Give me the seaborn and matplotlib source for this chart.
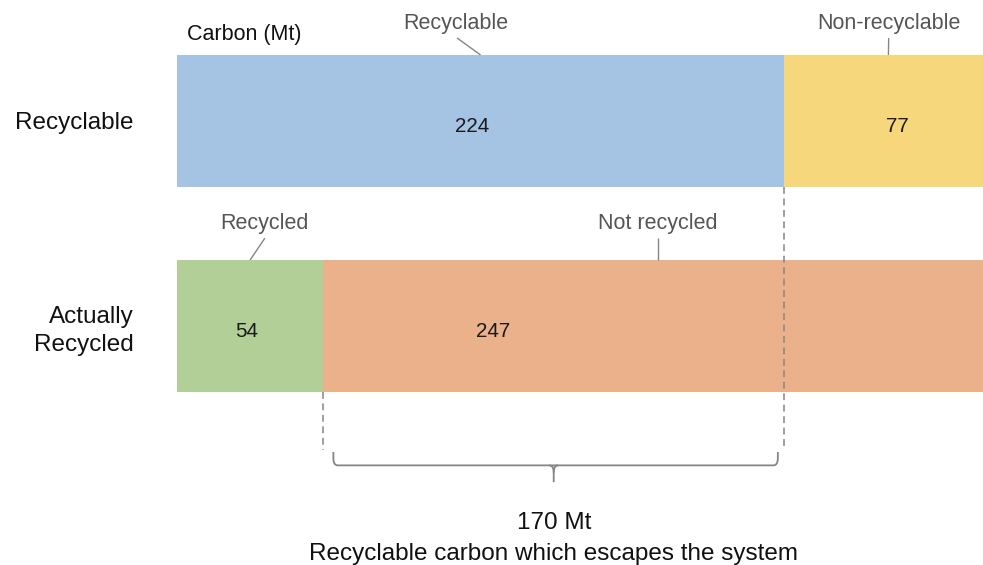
import matplotlib
matplotlib.use("Agg")
import matplotlib.pyplot as plt
from matplotlib.path import Path
from matplotlib.patches import PathPatch
import seaborn as sns

# --- data -------------------------------------------------------------
categories = ["Recyclable", "Actually\nRecycled"]
first_segment = [224, 54]          # Recyclable / Recycled
second_segment = [77, 247]         # Non-recyclable / Not recycled
first_names = ["Recyclable", "Recycled"]
second_names = ["Non-recyclable", "Not recycled"]
first_colors = ["#a5c3e2", "#b1cf96"]
second_colors = ["#f7d77b", "#ebb18a"]
escaped_label = "170 Mt"
escaped_caption = "Recyclable carbon which escapes the system"

totals = [a + b for a, b in zip(first_segment, second_segment)]

# --- styling ----------------------------------------------------------
sns.set_theme(style="white")
plt.rcParams["font.family"] = ["Liberation Sans", "DejaVu Sans"]

W, H = 983, 565
fig = plt.figure(figsize=(W / 100, H / 100), dpi=100)
fig.patch.set_facecolor("white")
ax = fig.add_axes([177 / W, 0, (W - 177) / W, 1])

bar_w = 0.644
# full-length bars first, then the first segment on top -> stacked look
sns.barplot(x=totals, y=categories, hue=categories, palette=second_colors,
            width=bar_w, saturation=1, legend=False, linewidth=0, ax=ax)
sns.barplot(x=first_segment, y=categories, hue=categories, palette=first_colors,
            width=bar_w, saturation=1, legend=False, linewidth=0, ax=ax)

ax.set_xlim(0, 297.4)
ax.set_ylim(2.166, -0.590)
for s in ax.spines.values():
    s.set_visible(False)
ax.set_xticks([])
ax.set_xlabel("")
ax.set_ylabel("")
ax.tick_params(axis="y", length=0, pad=31.5, labelsize=17.5, labelcolor="#111111")
for lbl in ax.get_yticklabels():
    lbl.set_horizontalalignment("right")
    lbl.set_multialignment("right")
    lbl.set_linespacing(1.35)

half = bar_w / 2
gray = "#858585"
text_gray = "#555555"

# value labels inside the bars
value_x = [[109, 265.7], [25.6, 116.7]]
for i in range(2):
    vals = [first_segment[i], second_segment[i]]
    for j in range(2):
        ax.text(value_x[i][j], i + 0.025, f"{vals[j]}", ha="center", va="center",
                fontsize=14.8, color="#1a1a1a")

# segment names above each bar with leader lines to the segment centers
header_x = [[103, 262.6], [32.4, 177.5]]
header_y = [-0.475, 0.5]
line_top = [-0.405, 0.572]
for i in range(2):
    centers = [first_segment[i] / 2, first_segment[i] + second_segment[i] / 2]
    names = [first_names[i], second_names[i]]
    for j in range(2):
        ax.text(header_x[i][j], header_y[i], names[j], ha="center", va="center",
                fontsize=15.5, color=text_gray)
        ax.plot([header_x[i][j] + (0.3 if j == 0 and i == 0 else 0), centers[j]],
                [line_top[i], i - half],
                color=gray, lw=1.0, solid_capstyle="butt")

ax.text(3.8, -0.424, "Carbon (Mt)", ha="left", va="center", fontsize=15.5,
        color="#111111")

# dashed guides marking the recycled and recyclable boundaries
ax.plot([first_segment[0], first_segment[0]], [0 + half, 1.59],
        color=gray, lw=1.1, ls=(0, (4.5, 3)))
ax.plot([first_segment[1], first_segment[1]], [1 + half, 1.605],
        color=gray, lw=1.1, ls=(0, (4.5, 3)))

# brace spanning the escaped carbon
x0, x1 = first_segment[1] + 3.7, first_segment[0] - 2.3
xm = (first_segment[0] + first_segment[1]) / 2
yt, yb, ytip = 1.615, 1.68, 1.762
dx, dy = 1.6, 0.035
verts = [(x0, yt), (x0, yb - dy), (x0, yb), (x0 + dx, yb),
         (x1 - dx, yb), (x1, yb), (x1, yb - dy), (x1, yt)]
codes = [Path.MOVETO, Path.LINETO, Path.CURVE3, Path.CURVE3,
         Path.LINETO, Path.CURVE3, Path.CURVE3, Path.LINETO]
ax.add_patch(PathPatch(Path(verts, codes), fill=False, edgecolor=gray, lw=1.3))
tip = [(xm - dx, yb), (xm, yb), (xm, yb + dy), (xm, ytip)]
tcodes = [Path.MOVETO, Path.CURVE3, Path.CURVE3, Path.LINETO]
ax.add_patch(PathPatch(Path(tip, tcodes), fill=False, edgecolor=gray, lw=1.3))
tip2 = [(xm + dx, yb), (xm, yb), (xm, yb + dy)]
ax.add_patch(PathPatch(Path(tip2, [Path.MOVETO, Path.CURVE3, Path.CURVE3]),
                       fill=False, edgecolor=gray, lw=1.3))

ax.text(xm, 1.96, escaped_label, ha="center", va="center", fontsize=17.5,
        color="#111111")
ax.text(xm, 2.11, escaped_caption, ha="center", va="center", fontsize=17.5,
        color="#111111")

fig.savefig("out.png", dpi=100, facecolor="white")
